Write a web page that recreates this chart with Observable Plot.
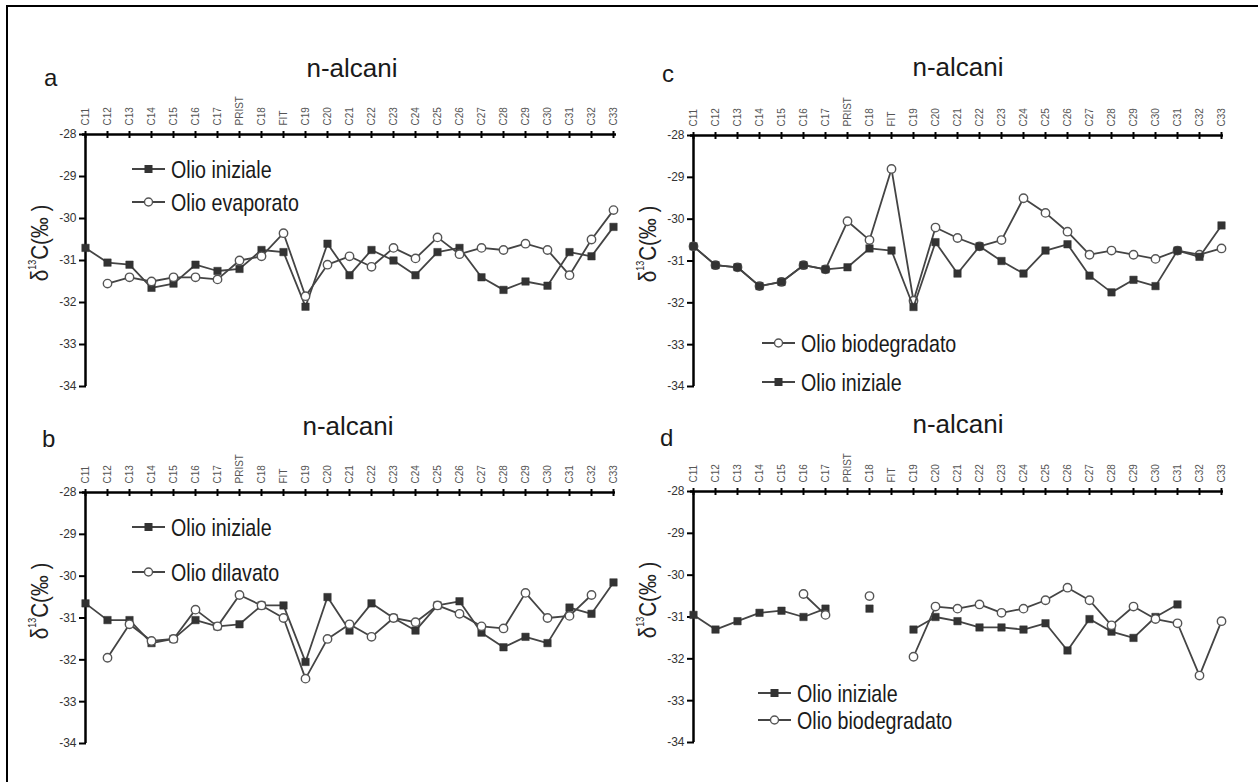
<!DOCTYPE html>
<html>
<head>
<meta charset="utf-8">
<script src="https://cdn.jsdelivr.net/npm/d3@7"></script>
<script src="https://cdn.jsdelivr.net/npm/@observablehq/plot@0.6"></script>
<style>
  html, body { margin: 0; padding: 0; background: #fff; }
  #page { position: relative; width: 1258px; height: 782px; overflow: hidden; background: #fff; }
  #frame { position: absolute; left: 6px; top: 5px; width: 1300px; height: 900px;
           border-left: 2.5px solid #000; border-top: 2.5px solid #000; box-sizing: border-box; }
  .panel { position: absolute; }
  #overlay { position: absolute; left: 0; top: 0; pointer-events: none; }
</style>
</head>
<body>
<div id="page">
  <div id="frame"></div>
</div>
<script>
// ---------------- DATA ----------------
const categories = ["C11","C12","C13","C14","C15","C16","C17","PRIST","C18","FIT","C19","C20","C21","C22","C23","C24","C25","C26","C27","C28","C29","C30","C31","C32","C33"];
const yTicks = [-28, -29, -30, -31, -32, -33, -34];
const panelTitle = "n-alcani";
const panelLetters = ["a", "b", "c", "d"];

// panel a
const aIniziale  = [-30.7,-31.05,-31.1,-31.65,-31.55,-31.1,-31.25,-31.2,-30.75,-30.8,-32.1,-30.6,-31.35,-30.75,-31.0,-31.35,-30.8,-30.7,-31.4,-31.7,-31.5,-31.6,-30.8,-30.9,-30.2];
const aEvaporato = [null,-31.55,-31.4,-31.5,-31.4,-31.4,-31.45,-31.0,-30.9,-30.35,-31.85,-31.1,-30.9,-31.15,-30.7,-30.95,-30.45,-30.85,-30.7,-30.75,-30.6,-30.75,-31.35,-30.5,-29.8];
// panel b
const bIniziale  = [-30.65,-31.05,-31.05,-31.6,-31.5,-31.05,-31.2,-31.15,-30.7,-30.7,-32.05,-30.5,-31.3,-30.65,-31.0,-31.3,-30.7,-30.6,-31.35,-31.7,-31.45,-31.6,-30.75,-30.9,-30.15];
const bDilavato  = [null,-31.95,-31.15,-31.55,-31.5,-30.8,-31.2,-30.45,-30.7,-31.0,-32.45,-31.5,-31.15,-31.45,-31.0,-31.1,-30.7,-30.9,-31.2,-31.25,-30.4,-31.0,-30.95,-30.45,null];
// panel c
const cIniziale  = [-30.65,-31.1,-31.15,-31.6,-31.5,-31.1,-31.2,-31.15,-30.7,-30.75,-32.1,-30.55,-31.3,-30.65,-31.0,-31.3,-30.75,-30.6,-31.35,-31.75,-31.45,-31.6,-30.75,-30.9,-30.15];
const cBiodegradato = [-30.65,-31.1,-31.15,-31.6,-31.5,-31.1,-31.2,-30.05,-30.5,-28.8,-31.95,-30.2,-30.45,-30.65,-30.5,-29.5,-29.85,-30.3,-30.85,-30.75,-30.85,-30.95,-30.75,-30.85,-30.7];
// panel d
const dIniziale  = [-30.95,-31.3,-31.1,-30.9,-30.85,-31.0,-30.8,null,-30.8,null,-31.3,-31.0,-31.1,-31.25,-31.25,-31.3,-31.15,-31.8,-31.05,-31.35,-31.5,-31.0,-30.7,null,null];
const dBiodegradato = [null,null,null,null,null,-30.45,-30.95,null,-30.5,null,-31.95,-30.75,-30.8,-30.7,-30.9,-30.8,-30.6,-30.3,-30.6,-31.2,-30.75,-31.05,-31.15,-32.4,-31.1];

const nameIniziale = "Olio iniziale";
const nameEvaporato = "Olio evaporato";
const nameDilavato = "Olio dilavato";
const nameBiodegradato = "Olio biodegradato";

// ---------------- LAYOUT / STYLE ----------------
const FONT = "'Liberation Sans',Arial,Helvetica,sans-serif";
const LINE_COLOR = "#444";
const SQUARE_FILL = "#333";
const CIRCLE_STROKE = "#555";
const NARROW_SCALE = 0.82;

const styles = {
  square: {symbol: "square", r: 4.2, fill: SQUARE_FILL, stroke: SQUARE_FILL, strokeWidth: 0.5},
  circle: {symbol: "circle", r: 4.2, fill: "#fff", stroke: CIRCLE_STROKE, strokeWidth: 1.4}
};
// small tick symbols drawn across the axis lines
const vTick = {draw(ctx) { ctx.moveTo(0, -3.5); ctx.lineTo(0, 3.5); }};
const hTick = {draw(ctx) { ctx.moveTo(-3.5, 0); ctx.lineTo(3.5, 0); }};

const panels = [
  {letter: panelLetters[0], box: {x0: 82, x1: 616, y0: 134, y1: 386}, title: [352, 77], let: [44, 86],
   series: [{name: nameIniziale, values: aIniziale, kind: "square"}, {name: nameEvaporato, values: aEvaporato, kind: "circle"}],
   legend: {x: 132, ys: [169, 202]}},
  {letter: panelLetters[1], box: {x0: 82, x1: 615, y0: 492, y1: 743}, title: [348, 435], let: [42, 447],
   series: [{name: nameIniziale, values: bIniziale, kind: "square"}, {name: nameDilavato, values: bDilavato, kind: "circle"}],
   legend: {x: 132, ys: [527, 572]}},
  {letter: panelLetters[2], box: {x0: 690, x1: 1223, y0: 135, y1: 386}, title: [958, 76], let: [662, 82],
   series: [{name: nameBiodegradato, values: cBiodegradato, kind: "circle"}, {name: nameIniziale, values: cIniziale, kind: "square"}],
   legend: {x: 762, ys: [343, 382]}},
  {letter: panelLetters[3], box: {x0: 690, x1: 1223, y0: 491, y1: 742}, title: [958, 433], let: [660, 446],
   series: [{name: nameIniziale, values: dIniziale, kind: "square"}, {name: nameBiodegradato, values: dBiodegradato, kind: "circle"}],
   legend: {x: 758, ys: [693, 720]}}
];

const page = document.getElementById("page");
const yTop = d3.max(yTicks), yBottom = d3.min(yTicks);

for (const p of panels) {
  const mL = 82, mT = 80, mR = 16, mB = 16;
  const W = p.box.x1 - p.box.x0, H = p.box.y1 - p.box.y0;
  const marks = [
    Plot.axisX({anchor: "top", tickSize: 0, tickPadding: 9, tickRotate: -90, fontSize: 10,
                fill: "#555", label: null, fontFamily: FONT}),
    Plot.axisY({ticks: yTicks, tickSize: 0, tickPadding: 6, tickFormat: d => String(d), fontSize: 12,
                fill: "#333", label: null, fontFamily: FONT}),
    Plot.ruleX([categories[0]], {stroke: "#000", strokeWidth: 2.5}),
    Plot.ruleY([yTop], {stroke: "#000", strokeWidth: 2.5}),
    Plot.dot(categories, {x: d => d, frameAnchor: "top", symbol: vTick, stroke: "#000", strokeWidth: 2, fill: "none"}),
    Plot.dot(yTicks, {y: d => d, frameAnchor: "left", symbol: hTick, stroke: "#000", strokeWidth: 2, fill: "none"})
  ];
  for (const s of p.series) {
    const rows = categories.map((c, i) => ({cat: c, v: s.values[i] == null ? NaN : s.values[i]}));
    marks.push(Plot.line(rows, {x: "cat", y: "v", stroke: LINE_COLOR, strokeWidth: 1.8}));
    marks.push(Plot.dot(rows.filter(r => !isNaN(r.v)), {x: "cat", y: "v", ...styles[s.kind]}));
  }
  const chart = Plot.plot({
    width: W + mL + mR,
    height: H + mT + mB,
    marginLeft: mL, marginTop: mT, marginRight: mR, marginBottom: mB,
    x: {type: "point", domain: categories, padding: 0},
    y: {domain: [yBottom, yTop]},
    style: {background: "transparent", overflow: "visible", fontFamily: FONT},
    marks
  });
  chart.classList.add("panel");
  chart.style.left = (p.box.x0 - mL) + "px";
  chart.style.top = (p.box.y0 - mT) + "px";
  page.appendChild(chart);
}

// ---------------- TEXT OVERLAY (titles, letters, y labels, legends) ----------------
const svg = d3.select(page).append("svg").attr("id", "overlay").attr("width", 1258).attr("height", 782);
for (const p of panels) {
  svg.append("text").attr("x", p.title[0]).attr("y", p.title[1]).attr("text-anchor", "middle")
    .attr("font-family", FONT).attr("font-size", 26).attr("fill", "#1a1a1a").text(panelTitle);
  svg.append("text").attr("x", p.let[0]).attr("y", p.let[1])
    .attr("font-family", FONT).attr("font-size", 24).attr("fill", "#1a1a1a").text(p.letter);
  const yl = svg.append("text")
    .attr("transform", `translate(${p.box.x0 - 42},${p.box.y0 + 109}) rotate(-90) scale(0.9,1)`)
    .attr("text-anchor", "middle").attr("dominant-baseline", "central")
    .attr("font-family", FONT).attr("font-size", 23).attr("fill", "#222");
  yl.append("tspan").text("δ");
  yl.append("tspan").attr("font-size", 10).attr("dy", -8).text("13");
  yl.append("tspan").attr("dy", 8).text("C(‰ )");
  p.series.forEach((s, i) => {
    const y = p.legend.ys[i], x = p.legend.x;
    svg.append("line").attr("x1", x).attr("x2", x + 33).attr("y1", y).attr("y2", y)
      .attr("stroke", LINE_COLOR).attr("stroke-width", 2);
    if (s.kind === "square") {
      svg.append("rect").attr("x", x + 16.5 - 4).attr("y", y - 4).attr("width", 8).attr("height", 8).attr("fill", SQUARE_FILL);
    } else {
      svg.append("circle").attr("cx", x + 16.5).attr("cy", y).attr("r", 4).attr("fill", "#fff")
        .attr("stroke", CIRCLE_STROKE).attr("stroke-width", 1.4);
    }
    svg.append("text").attr("transform", `translate(${x + 39},${y + 8.5}) scale(${NARROW_SCALE},1)`)
      .attr("font-family", FONT).attr("font-size", 24).attr("fill", "#1a1a1a").text(s.name);
  });
}
</script>
</body>
</html>
